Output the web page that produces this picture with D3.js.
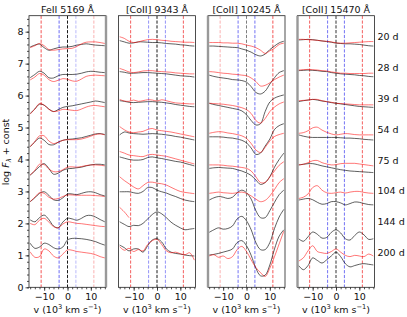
<!DOCTYPE html>
<html>
<head>
<meta charset="utf-8">
<script src="https://cdn.jsdelivr.net/npm/d3@7"></script>
<style>
  html, body { margin: 0; padding: 0; background: #fff; }
  svg { display: block; font-family: 'DejaVu Sans', sans-serif; }
</style>
</head>
<body>
<svg id="chart" width="407" height="317"></svg>
<script>
// velocity grid (10^3 km/s) shared by every spectrum
const velocity = [-16, -14, -12, -10, -8, -6, -4, -2, 0, 2, 4, 6, 8, 10, 12, 14, 16]

const epochs = ['20 d', '28 d', '39 d', '54 d', '75 d', '104 d', '144 d', '200 d']
// offset level of each epoch label (log F + const)
const epochLevels = [7.85, 6.88, 5.9, 4.93, 3.97, 3.02, 2.06, 1.1]

const lineTitles = ['FeII 5169 Å', '[CoII] 9343 Å', '[CoII] 10245 Å', '[CoII] 15470 Å']

// velocities of the dashed marker lines
const markerVelocities = [-11.3, -3.6, 0, 3.6, 11.3]

// FeII 5169
const feBlack = [
  [7.52, 7.58, 7.61, 7.50, 7.42, 7.46, 7.50, 7.52, 7.52, 7.54, 7.58, 7.60, 7.62, 7.60, 7.58, 7.57, 7.56],
  [6.56, 6.66, 6.76, 6.70, 6.56, 6.55, 6.62, 6.66, 6.66, 6.66, 6.67, 6.70, 6.74, 6.76, 6.75, 6.73, 6.72],
  [5.44, 5.58, 5.73, 5.70, 5.58, 5.50, 5.56, 5.63, 5.66, 5.68, 5.71, 5.74, 5.77, 5.80, 5.83, 5.81, 5.78],
  [4.40, 4.55, 4.67, 4.60, 4.47, 4.46, 4.54, 4.60, 4.63, 4.64, 4.66, 4.68, 4.72, 4.76, 4.80, 4.81, 4.78],
  [3.51, 3.64, 3.78, 3.87, 3.72, 3.54, 3.57, 3.66, 3.71, 3.72, 3.74, 3.76, 3.80, 3.83, 3.85, 3.85, 3.83],
  [2.68, 2.80, 2.94, 2.99, 2.88, 2.74, 2.72, 2.80, 2.92, 2.92, 2.90, 2.94, 2.98, 2.99, 2.96, 2.90, 2.86],
  [2.11, 2.05, 2.18, 2.26, 2.12, 1.92, 1.86, 2.04, 2.16, 2.14, 2.10, 2.16, 2.24, 2.25, 2.20, 2.12, 2.05],
  [1.38, 1.22, 1.26, 1.38, 1.34, 1.24, 1.20, 1.26, 1.48, 1.53, 1.53, 1.52, 1.50, 1.47, 1.43, 1.37, 1.32]
]
const feRed = [
  [7.50, 7.56, 7.63, 7.56, 7.44, 7.42, 7.44, 7.46, 7.47, 7.48, 7.54, 7.62, 7.67, 7.68, 7.68, 7.66, 7.63],
  [6.49, 6.58, 6.69, 6.64, 6.50, 6.44, 6.48, 6.53, 6.51, 6.46, 6.45, 6.52, 6.60, 6.63, 6.64, 6.63, 6.62],
  [5.42, 5.58, 5.75, 5.70, 5.57, 5.50, 5.52, 5.57, 5.56, 5.54, 5.53, 5.58, 5.64, 5.68, 5.69, 5.67, 5.65],
  [4.40, 4.56, 4.74, 4.74, 4.58, 4.50, 4.54, 4.60, 4.62, 4.62, 4.62, 4.64, 4.68, 4.73, 4.78, 4.80, 4.77],
  [3.51, 3.66, 3.85, 3.84, 3.70, 3.62, 3.62, 3.68, 3.76, 3.77, 3.76, 3.78, 3.81, 3.83, 3.83, 3.82, 3.80],
  [2.68, 2.82, 2.96, 2.94, 2.82, 2.76, 2.78, 2.84, 2.89, 2.89, 2.88, 2.88, 2.88, 2.88, 2.87, 2.86, 2.84],
  [2.00, 1.96, 2.10, 2.16, 2.04, 1.90, 1.86, 1.98, 2.05, 2.03, 2.00, 1.99, 1.97, 1.95, 1.93, 1.91, 1.90],
  [1.11, 0.94, 0.96, 1.20, 1.14, 0.98, 0.92, 1.04, 1.17, 1.16, 1.12, 1.10, 1.08, 1.06, 1.02, 0.96, 0.92]
]

// [CoII] 9343
const co9343Black = [
  [7.72, 7.68, 7.64, 7.65, 7.68, 7.68, 7.67, 7.66, 7.66, 7.65, 7.63, 7.62, 7.61, 7.59, 7.58, 7.56, 7.55],
  [6.75, 6.73, 6.70, 6.70, 6.71, 6.72, 6.72, 6.71, 6.70, 6.69, 6.68, 6.66, 6.64, 6.62, 6.61, 6.60, 6.58],
  [5.84, 5.82, 5.79, 5.78, 5.79, 5.80, 5.81, 5.81, 5.80, 5.79, 5.77, 5.75, 5.72, 5.70, 5.68, 5.66, 5.65],
  [4.77, 4.86, 4.83, 4.81, 4.80, 4.79, 4.80, 4.81, 4.80, 4.79, 4.77, 4.75, 4.72, 4.70, 4.67, 4.64, 4.61],
  [4.08, 4.04, 4.00, 3.98, 3.98, 4.00, 4.06, 4.08, 4.05, 4.03, 4.00, 3.97, 3.94, 3.92, 3.88, 3.84, 3.80],
  [2.99, 2.99, 2.99, 2.96, 2.94, 3.00, 3.12, 3.12, 3.04, 2.99, 2.95, 2.89, 2.84, 2.78, 2.73, 2.70, 2.68],
  [2.05, 1.97, 1.90, 1.94, 1.93, 2.00, 2.14, 2.28, 2.36, 2.30, 2.18, 2.04, 1.94, 1.86, 1.80, 1.82, 1.84],
  [1.32, 1.24, 1.14, 1.20, 1.20, 1.10, 1.30, 1.48, 1.52, 1.42, 1.20, 1.10, 1.06, 1.04, 1.01, 0.99, 0.98]
]
const co9343Red = [
  [7.84, 7.79, 7.70, 7.66, 7.68, 7.72, 7.75, 7.76, 7.75, 7.73, 7.72, 7.70, 7.69, 7.68, 7.67, 7.67, 7.66],
  [6.85, 6.80, 6.74, 6.72, 6.74, 6.77, 6.78, 6.78, 6.76, 6.75, 6.74, 6.73, 6.71, 6.70, 6.69, 6.68, 6.68],
  [5.88, 5.83, 5.82, 5.86, 5.82, 5.84, 5.87, 5.86, 5.83, 5.87, 5.84, 5.80, 5.77, 5.76, 5.75, 5.74, 5.74],
  [5.03, 4.93, 4.86, 4.84, 4.86, 4.88, 4.94, 4.97, 4.92, 4.90, 4.88, 4.86, 4.83, 4.80, 4.77, 4.74, 4.71],
  [4.25, 4.20, 4.14, 4.12, 4.10, 4.09, 4.14, 4.16, 4.14, 4.12, 4.10, 4.06, 4.02, 3.98, 3.94, 3.90, 3.86],
  [3.46, 3.34, 3.24, 3.14, 3.08, 3.18, 3.28, 3.29, 3.26, 3.24, 3.20, 3.13, 3.06, 3.00, 2.97, 2.95, 2.93],
  [2.50, 2.36, 2.18, null, null, null, null, null, null, null, null, null, null, null, null, null, null],
  [1.27, 1.16, 1.22, 1.12, 1.18, 1.14, 1.34, 1.46, 1.50, 1.34, 1.14, 1.08, 1.10, 1.05, 1.02, 1.08, 0.85]
]

// [CoII] 10245
const co10245Black = [
  [7.55, 7.55, 7.54, 7.53, 7.52, 7.51, 7.50, 7.46, 7.42, 7.36, 7.28, 7.24, 7.30, 7.44, 7.55, 7.65, 7.70],
  [6.64, 6.60, 6.57, 6.55, 6.53, 6.50, 6.49, 6.47, 6.42, 6.28, 6.10, 6.05, 6.14, 6.36, 6.56, 6.72, 6.78],
  [5.76, 5.72, 5.69, 5.66, 5.63, 5.60, 5.57, 5.52, 5.40, 5.22, 5.08, 5.12, 5.50, 5.80, 5.92, 5.98, 6.02],
  [4.71, 4.71, 4.71, 4.70, 4.68, 4.67, 4.64, 4.60, 4.52, 4.36, 4.16, 4.20, 4.42, 4.64, 4.94, 5.06, 5.12],
  [3.72, 3.74, 3.75, 3.74, 3.73, 3.72, 3.68, 3.64, 3.58, 3.50, 3.36, 3.22, 3.28, 3.46, 3.76, 4.00, 4.20],
  [2.73, 2.80, 2.84, 2.82, 2.78, 2.82, 2.96, 3.04, 2.96, 2.76, 2.40, 2.18, 2.18, 2.40, 2.66, 2.90, 3.04],
  [1.72, 1.80, 1.86, 1.82, 1.84, 1.92, 2.14, 2.22, 2.08, 1.80, 1.40, 1.18, 1.18, 1.40, 1.84, 2.20, 2.44],
  [1.01, 1.03, 1.06, 1.10, 1.14, 1.20, 1.40, 1.46, 1.30, 1.00, 0.60, 0.36, 0.38, 0.70, 1.20, 1.60, 1.80]
]
const co10245Red = [
  [7.66, 7.66, 7.66, 7.65, 7.65, 7.64, 7.64, 7.62, 7.58, 7.55, 7.50, 7.42, 7.32, 7.40, 7.48, 7.60, 7.64],
  [6.75, 6.74, 6.72, 6.70, 6.69, 6.67, 6.66, 6.64, 6.62, 6.55, 6.44, 6.30, 6.32, 6.40, 6.50, 6.58, 6.64],
  [5.76, 5.75, 5.74, 5.73, 5.71, 5.69, 5.66, 5.62, 5.56, 5.44, 5.22, 5.14, 5.28, 5.50, 5.64, 5.74, 5.80],
  [4.82, 4.85, 4.87, 4.86, 4.83, 4.81, 4.78, 4.74, 4.66, 4.50, 4.30, 4.22, 4.38, 4.58, 4.72, 4.78, 4.82],
  [3.83, 3.83, 3.83, 3.82, 3.80, 3.79, 3.77, 3.75, 3.72, 3.64, 3.46, 3.28, 3.28, 3.46, 3.64, 3.82, 3.93],
  [2.94, 2.96, 2.98, 2.96, 2.95, 2.94, 2.96, 2.98, 2.94, 2.86, 2.76, 2.68, 2.72, 2.86, 3.06, 3.28, 3.40],
  null,
  [0.98, 1.02, 0.94, 0.98, 0.90, 0.96, 1.18, 1.28, 1.12, 0.86, 0.62, 0.46, 0.34, 0.60, 0.96, 1.36, 1.76]
]

// [CoII] 15470
const co15470Black = [
  [7.74, 7.75, 7.76, 7.75, 7.73, 7.71, 7.69, 7.67, 7.64, 7.63, 7.62, 7.62, 7.61, 7.60, 7.58, 7.56, 7.55],
  [6.78, 6.79, 6.80, 6.79, 6.78, 6.76, 6.75, 6.72, 6.70, 6.68, 6.67, 6.66, 6.65, 6.63, 6.62, 6.60, 6.59],
  [5.81, 5.84, 5.86, 5.88, 5.86, 5.83, 5.81, 5.78, 5.76, 5.74, 5.72, 5.70, 5.68, 5.66, 5.65, 5.64, 5.63],
  [4.77, 4.73, 4.70, 4.69, 4.69, 4.69, 4.69, 4.69, 4.69, 4.68, 4.67, 4.67, 4.66, 4.65, 4.63, 4.62, 4.61],
  [3.83, 3.85, 3.87, 3.87, 3.84, 3.80, 3.77, 3.74, 3.71, 3.68, 3.66, 3.64, 3.63, 3.62, 3.61, 3.60, 3.59],
  [2.73, 2.76, 2.78, 2.74, 2.66, 2.60, 2.62, 2.68, 2.68, 2.64, 2.58, 2.62, 2.67, 2.66, 2.62, 2.59, 2.58],
  [1.52, 1.44, 1.58, 1.73, 1.66, 1.54, 1.56, 1.72, 1.80, 1.70, 1.52, 1.48, 1.62, 1.73, 1.64, 1.50, 1.52],
  [0.68, 0.55, 0.68, 0.92, 0.84, 0.76, 0.86, 0.98, 1.10, 0.96, 0.74, 0.64, 0.68, 0.72, 0.74, 0.72, 0.70]
]
const co15470Red = [
  [7.76, 7.76, 7.75, 7.74, 7.73, 7.71, 7.70, 7.68, 7.65, 7.64, 7.64, 7.65, 7.66, 7.67, 7.68, 7.69, 7.69],
  [6.80, 6.81, 6.82, 6.81, 6.80, 6.78, 6.77, 6.74, 6.72, 6.70, 6.70, 6.69, 6.69, 6.69, 6.69, 6.70, 6.70],
  [5.84, 5.85, 5.86, 5.88, 5.88, 5.84, 5.81, 5.79, 5.76, 5.75, 5.74, 5.73, 5.72, 5.71, 5.71, 5.71, 5.71],
  [4.82, 4.84, 4.90, 4.99, 5.01, 4.92, 4.85, 4.80, 4.77, 4.79, 4.81, 4.80, 4.78, 4.77, 4.77, 4.77, 4.77],
  [3.83, 3.85, 3.90, 3.96, 3.97, 3.90, 3.86, 3.83, 3.84, 3.87, 3.88, 3.88, 3.88, 3.86, 3.84, 3.82, 3.80],
  [2.78, 2.82, 2.92, 3.12, 3.18, 3.04, 2.96, 2.94, 2.96, 2.98, 2.95, 2.98, 3.00, 3.00, 2.97, 2.95, 2.94],
  null,
  [0.82, 0.92, 1.14, 1.30, 1.12, 1.08, 1.06, 1.12, 1.20, 1.10, 1.00, 0.96, 1.00, 0.98, 0.96, 1.04, 0.98]
]

// layout
let width = 407
let panelLeft = 29
let panelStep = 89.5
let panelWidth = 77
let plotTop = 15.7
let plotBottom = 287.3

// marker line colours, opacity per panel, and which spines are drawn grey
let markerColors = ['#e00', '#22e', '#000', '#22e', '#e00']
let panels = [
  {title: lineTitles[0], black: feBlack, red: feRed, alpha: [0.75, 0.75, 1, 0.35, 0.35], zeroColor: '#000', greySide: 'right', yAxis: true},
  {title: lineTitles[1], black: co9343Black, red: co9343Red, alpha: [0.7, 0.55, 1, 0.55, 0.7], zeroColor: '#000', greySide: null, yAxis: false},
  {title: lineTitles[2], black: co10245Black, red: co10245Red, alpha: [0.35, 0.7, 0.7, 0.7, 0.75], zeroColor: '#333', greySide: 'left', yAxis: false},
  {title: lineTitles[3], black: co15470Black, red: co15470Red, alpha: [0.7, 0.7, 0.6, 0.7, 0.7], zeroColor: '#555', greySide: 'left', yAxis: false}
]

let svg = d3.select('#chart')
let y = d3.scaleLinear().domain([0, 8.5]).range([plotBottom, plotTop])

function minusFormat (d) {
  return d < 0 ? '\u2212' + Math.abs(d) : String(d)
}

panels.forEach(function (p, i) {
  let x0 = panelLeft + i * panelStep
  let x = d3.scaleLinear().domain([-16.5, 16.5]).range([x0, x0 + panelWidth])
  let g = svg.append('g')

  g.append('clipPath').attr('id', 'clip' + i)
    .append('rect')
    .attr('x', x0).attr('y', plotTop)
    .attr('width', panelWidth).attr('height', plotBottom - plotTop)

  let body = g.append('g').attr('clip-path', 'url(#clip' + i + ')')

  // dashed marker lines
  markerVelocities.forEach(function (v, k) {
    let isZero = v === 0
    body.append('line')
      .attr('x1', x(v)).attr('x2', x(v))
      .attr('y1', plotTop).attr('y2', plotBottom)
      .attr('stroke', isZero ? p.zeroColor : markerColors[k])
      .attr('stroke-opacity', p.alpha[k])
      .attr('stroke-width', isZero && i === 3 ? 2 : 0.9)
      .attr('stroke-dasharray', '3.2,1.6')
  })

  let line = d3.line()
    .defined(function (d) { return d[1] != null })
    .x(function (d) { return x(d[0]) })
    .y(function (d) { return y(d[1]) })
    .curve(d3.curveCatmullRom.alpha(0.5))

  epochs.forEach(function (e, j) {
    let series = [[p.black[j], '#000', 0.7], [p.red[j], '#f00', 0.6]]
    series.forEach(function (s) {
      if (!s[0]) return
      body.append('path')
        .datum(velocity.map(function (v, k) { return [v, s[0][k]] }))
        .attr('d', line)
        .attr('fill', 'none')
        .attr('stroke', s[1])
        .attr('stroke-opacity', s[2])
        .attr('stroke-width', 0.9)
    })
  })

  // frame
  g.append('rect')
    .attr('x', x0).attr('y', plotTop)
    .attr('width', panelWidth).attr('height', plotBottom - plotTop)
    .attr('fill', 'none').attr('stroke', '#222').attr('stroke-width', 0.8)
  if (p.greySide) {
    let gx = p.greySide === 'right' ? x0 + panelWidth : x0
    g.append('line')
      .attr('x1', gx).attr('x2', gx).attr('y1', plotTop).attr('y2', plotBottom)
      .attr('stroke', '#999').attr('stroke-width', 2.4)
  }

  // x axis: major and minor ticks
  let xMinor = g.append('g').attr('transform', 'translate(0,' + plotBottom + ')')
    .call(d3.axisBottom(x).tickValues(d3.range(-16, 17, 2)).tickSize(2).tickFormat(''))
  let xMajor = g.append('g').attr('transform', 'translate(0,' + plotBottom + ')')
    .call(d3.axisBottom(x).tickValues([-10, 0, 10]).tickSize(3.5).tickPadding(2).tickFormat(minusFormat))
  ;[xMinor, xMajor].forEach(function (a) {
    a.select('.domain').remove()
    a.selectAll('line').attr('stroke', '#222').attr('stroke-width', 0.8)
    a.selectAll('text').attr('font-size', '9.5px').attr('fill', '#111').attr('font-family', 'DejaVu Sans')
  })

  // title
  g.append('text')
    .attr('x', x0 + panelWidth / 2).attr('y', 12.5)
    .attr('text-anchor', 'middle').attr('font-size', '9.5px').attr('fill', '#111')
    .text(p.title)

  // x label
  let xl = g.append('text')
    .attr('x', x0 + panelWidth / 2).attr('y', 312.5)
    .attr('text-anchor', 'middle').attr('font-size', '9.5px').attr('fill', '#111')
  xl.append('tspan').text('v (10')
  xl.append('tspan').attr('dy', -3.5).attr('font-size', '6.7px').text('3')
  xl.append('tspan').attr('dy', 3.5).text(' km s')
  xl.append('tspan').attr('dy', -3.5).attr('font-size', '6.7px').text('\u22121')
  xl.append('tspan').attr('dy', 3.5).text(')')

  if (p.yAxis) {
    let yMinor = g.append('g').attr('transform', 'translate(' + x0 + ',0)')
      .call(d3.axisLeft(y).tickValues(d3.range(0, 8.5, 0.2)).tickSize(2).tickFormat(''))
    let yMajor = g.append('g').attr('transform', 'translate(' + x0 + ',0)')
      .call(d3.axisLeft(y).tickValues(d3.range(0, 9, 1)).tickSize(3.5).tickPadding(2))
    ;[yMinor, yMajor].forEach(function (a) {
      a.select('.domain').remove()
      a.selectAll('line').attr('stroke', '#222').attr('stroke-width', 0.8)
      a.selectAll('text').attr('font-size', '9.5px').attr('fill', '#111').attr('font-family', 'DejaVu Sans')
    })
  }
})

// epoch labels on the right
svg.append('g').selectAll('text')
  .data(epochs)
  .join('text')
  .attr('x', panelLeft + 3 * panelStep + panelWidth + 3)
  .attr('y', function (d, j) { return y(epochLevels[j]) + 3.5 })
  .attr('font-size', '9.5px').attr('fill', '#111')
  .text(function (d) { return d })

// y label
let yl = svg.append('text')
  .attr('transform', 'translate(9,152) rotate(-90)')
  .attr('text-anchor', 'middle').attr('font-size', '9.5px').attr('fill', '#111')
yl.append('tspan').text('log ')
yl.append('tspan').attr('font-style', 'italic').text('F')
yl.append('tspan').attr('dy', 2.2).attr('font-size', '6.7px').attr('font-style', 'italic').text('λ')
yl.append('tspan').attr('dy', -2.2).text(' + const')
</script>
</body>
</html>
